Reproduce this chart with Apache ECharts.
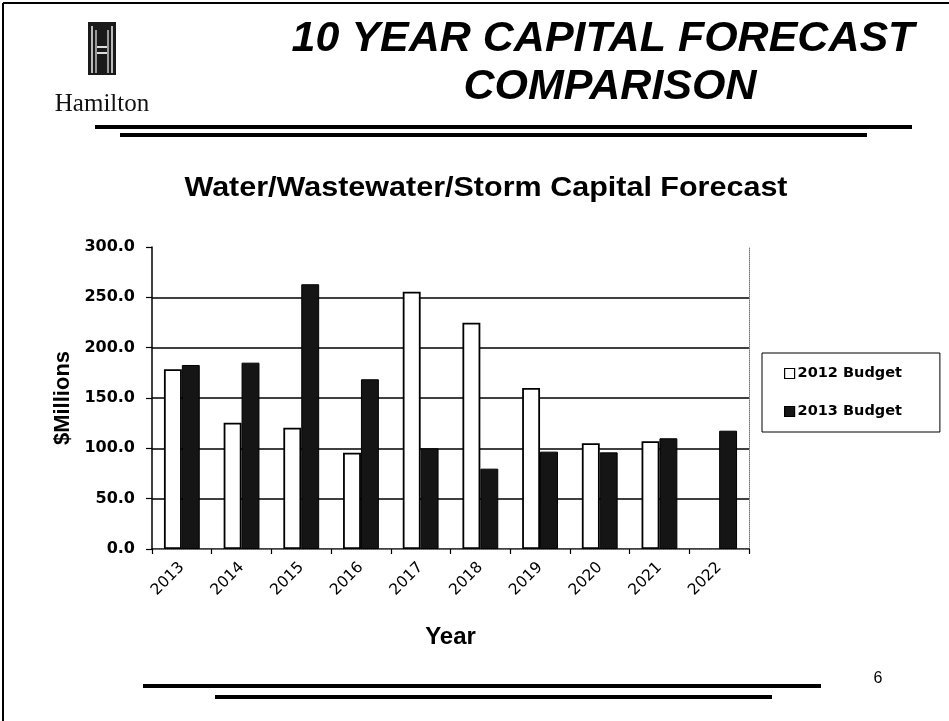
<!DOCTYPE html>
<html>
<head>
<meta charset="utf-8">
<script src="https://cdn.jsdelivr.net/npm/echarts@6/dist/echarts.min.js"></script>
<style>
html,body{margin:0;padding:0;background:#fff;}
#chart{width:949px;height:721px;}
</style>
</head>
<body>
<div id="chart"></div>
<script>
const categories = ['2013','2014','2015','2016','2017','2018','2019','2020','2021','2022'];
const budget2012 = [178.5, 125.5, 120.5, 95.7, 255.6, 224.8, 160.0, 105.0, 107.0, null];
const budget2013 = [182.8, 185.1, 263.0, 168.6, 100.0, 79.8, 96.7, 96.0, 110.0, 117.5];
const seriesNames = ['2012 Budget', '2013 Budget'];
const yMin = 0, yMax = 300, yStep = 50;

const chart = echarts.init(document.getElementById('chart'), null, {renderer: 'canvas'});
const axisFont = 'DejaVu Sans';
const option = {
  backgroundColor: '#ffffff',
  animation: false,
  grid: {left: 152, right: 200, top: 247, bottom: 172, containLabel: false},
  legend: {
    orient: 'vertical',
    left: 762, top: 353,
    padding: [13, 38, 13, 22],
    itemGap: 23,
    itemWidth: 10, itemHeight: 10,
    itemStyle: {borderWidth: 1.2, borderColor: '#000'},
    borderColor: '#000', borderWidth: 1,
    textStyle: {fontFamily: axisFont, fontWeight: 'bold', fontSize: 14.5, color: '#000', padding: [0,0,0,-2]},
    data: seriesNames.map(n => ({name: n, icon: 'rect'}))
  },
  xAxis: [{
    type: 'category',
    data: categories,
    name: 'Year',
    nameLocation: 'middle',
    nameGap: 76,
    nameTextStyle: {fontFamily: 'Liberation Sans', fontWeight: 'bold', fontSize: 24, color: '#000'},
    axisLine: {lineStyle: {color: '#000', width: 1.5}},
    axisTick: {show: true, length: 5, lineStyle: {color: '#000', width: 1.2}},
    axisLabel: {rotate: 45, margin: 16, fontFamily: axisFont, fontSize: 15.5, color: '#000'},
    splitLine: {show: false}
  }, {
    type: 'category',
    position: 'top',
    data: categories,
    axisLine: {lineStyle: {color: '#777', width: 1, type: 'dotted'}},
    axisTick: {show: false},
    axisLabel: {show: false}
  }],
  yAxis: [{
    type: 'value',
    min: yMin, max: yMax, interval: yStep,
    name: '$Millions',
    nameLocation: 'middle',
    nameGap: 70,
    nameTextStyle: {fontFamily: 'Liberation Sans', fontWeight: 'bold', fontSize: 22, color: '#000'},
    axisLine: {show: true, lineStyle: {color: '#000', width: 1.5}},
    axisTick: {show: true, length: 6, lineStyle: {color: '#000', width: 1.2}},
    axisLabel: {margin: 17, fontFamily: axisFont, fontWeight: 'bold', fontSize: 16, color: '#000',
      formatter: v => v.toFixed(1)},
    splitLine: {show: true, showMaxLine: false, showMinLine: false, lineStyle: {color: '#000', width: 1.6}}
  }, {
    type: 'value',
    position: 'right',
    min: yMin, max: yMax, interval: yStep,
    axisLine: {show: true, lineStyle: {color: '#777', width: 1, type: 'dotted'}},
    axisTick: {show: false},
    axisLabel: {show: false},
    splitLine: {show: false}
  }],
  series: [{
    name: seriesNames[0],
    type: 'bar',
    data: budget2012,
    barGap: '0%',
    barCategoryGap: '40%',
    itemStyle: {color: '#ffffff', borderColor: '#000', borderWidth: 1.8}
  }, {
    name: seriesNames[1],
    type: 'bar',
    data: budget2013,
    barGap: '0%',
    barCategoryGap: '40%',
    itemStyle: {color: '#151515', borderColor: '#000', borderWidth: 1}
  }],
  graphic: [
    // page border
    {type: 'line', shape: {x1: 3, y1: 3, x2: 949, y2: 3}, style: {stroke: '#000', lineWidth: 2}},
    {type: 'line', shape: {x1: 3, y1: 3, x2: 3, y2: 721}, style: {stroke: '#000', lineWidth: 2}},
    // logo
    {type: 'rect', shape: {x: 88, y: 22, width: 28, height: 53}, style: {fill: '#1a1a1a'}},
    {type: 'rect', shape: {x: 91, y: 26, width: 2, height: 47}, style: {fill: '#bbb'}},
    {type: 'rect', shape: {x: 95, y: 30, width: 2, height: 43}, style: {fill: '#999'}},
    {type: 'rect', shape: {x: 107, y: 30, width: 2, height: 43}, style: {fill: '#999'}},
    {type: 'rect', shape: {x: 111, y: 26, width: 2, height: 47}, style: {fill: '#bbb'}},
    {type: 'rect', shape: {x: 97, y: 46, width: 10, height: 2}, style: {fill: '#ddd'}},
    {type: 'rect', shape: {x: 97, y: 52, width: 10, height: 2}, style: {fill: '#ddd'}},
    {type: 'text', x: 102, y: 104, style: {text: 'Hamilton', font: '25px "Liberation Serif"', fill: '#111', textAlign: 'center', textVerticalAlign: 'middle'}},
    // header title
    {type: 'text', x: 603, y: 39, style: {text: '10 YEAR CAPITAL FORECAST', font: 'italic bold 43px "Liberation Sans"', fill: '#000', textAlign: 'center', textVerticalAlign: 'middle'}},
    {type: 'text', x: 610, y: 87, style: {text: 'COMPARISON', font: 'italic bold 43px "Liberation Sans"', fill: '#000', textAlign: 'center', textVerticalAlign: 'middle'}},
    {type: 'line', shape: {x1: 95, y1: 127, x2: 912, y2: 127}, style: {stroke: '#000', lineWidth: 4}},
    {type: 'line', shape: {x1: 120, y1: 135, x2: 867, y2: 135}, style: {stroke: '#000', lineWidth: 4}},
    // chart title
    {type: 'text', x: 486, y: 189, scaleX: 1.13, style: {text: 'Water/Wastewater/Storm Capital Forecast', font: 'bold 27px "Liberation Sans"', fill: '#000', textAlign: 'center', textVerticalAlign: 'middle'}},
    // footer
    {type: 'line', shape: {x1: 143, y1: 686, x2: 821, y2: 686}, style: {stroke: '#000', lineWidth: 4}},
    {type: 'line', shape: {x1: 215, y1: 697, x2: 772, y2: 697}, style: {stroke: '#000', lineWidth: 4}},
    {type: 'text', x: 878, y: 679, style: {text: '6', font: '16px "Liberation Sans"', fill: '#000', textAlign: 'center', textVerticalAlign: 'middle'}}
  ]
};
chart.setOption(option);
</script>
</body>
</html>
